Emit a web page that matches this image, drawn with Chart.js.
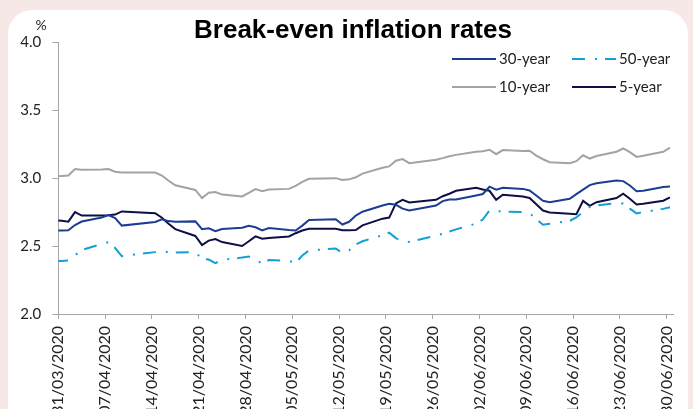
<!DOCTYPE html>
<html>
<head>
<meta charset="utf-8">
<script src="https://cdn.jsdelivr.net/npm/chart.js@4.4.1/dist/chart.umd.min.js"></script>
<style>
  html, body { margin: 0; padding: 0; }
  body { width: 693px; height: 409px; background: #f5e8e6; position: relative; overflow: hidden; }
  #card { position: absolute; left: 8px; top: 10px; width: 680px; height: 430px; background: #fff; border-radius: 24px; }
  #wrap { position: absolute; left: 0; top: 0; width: 693px; height: 409px; }
</style>
</head>
<body>
<div id="card"></div>
<div id="wrap"><canvas id="chart" width="693" height="409"></canvas></div>
<script>
// Break-even inflation rates, %, торгові дні 30/03/2020 - 30/06/2020
const dates = [
    '30/03/2020', '31/03/2020', '01/04/2020', '02/04/2020', '03/04/2020', '06/04/2020', '07/04/2020', '08/04/2020', '09/04/2020', '14/04/2020',
    '15/04/2020', '16/04/2020', '17/04/2020', '20/04/2020', '21/04/2020', '22/04/2020', '23/04/2020', '24/04/2020', '27/04/2020', '28/04/2020',
    '29/04/2020', '30/04/2020', '01/05/2020', '04/05/2020', '05/05/2020', '06/05/2020', '07/05/2020', '11/05/2020', '12/05/2020', '13/05/2020',
    '14/05/2020', '15/05/2020', '18/05/2020', '19/05/2020', '20/05/2020', '21/05/2020', '22/05/2020', '26/05/2020', '27/05/2020', '28/05/2020',
    '29/05/2020', '01/06/2020', '02/06/2020', '03/06/2020', '04/06/2020', '05/06/2020', '08/06/2020', '09/06/2020', '10/06/2020', '11/06/2020',
    '12/06/2020', '15/06/2020', '16/06/2020', '17/06/2020', '18/06/2020', '19/06/2020', '22/06/2020', '23/06/2020', '24/06/2020', '25/06/2020',
    '26/06/2020', '29/06/2020', '30/06/2020'
];

const rate30 = [
    2.614, 2.614, 2.616, 2.654, 2.680, 2.710, 2.728, 2.705, 2.650, 2.677,
    2.696, 2.683, 2.678, 2.681, 2.624, 2.630, 2.609, 2.625, 2.634, 2.648,
    2.638, 2.614, 2.632, 2.617, 2.614, 2.650, 2.692, 2.697, 2.658, 2.678,
    2.724, 2.752, 2.798, 2.810, 2.803, 2.775, 2.762, 2.798, 2.830, 2.842,
    2.842, 2.872, 2.882, 2.936, 2.914, 2.928, 2.920, 2.908, 2.871, 2.832,
    2.822, 2.847, 2.881, 2.915, 2.948, 2.962, 2.982, 2.977, 2.945, 2.903,
    2.907, 2.934, 2.937
];

const rate50 = [
    2.388, 2.390, 2.393, 2.432, 2.470, 2.515, 2.528, 2.485, 2.425, 2.455,
    2.460, 2.455, 2.452, 2.455, 2.405, 2.400, 2.374, 2.398, 2.415, 2.422,
    2.403, 2.369, 2.397, 2.390, 2.376, 2.430, 2.467, 2.482, 2.448, 2.467,
    2.511, 2.535, 2.580, 2.598, 2.558, 2.534, 2.530, 2.577, 2.590, 2.607,
    2.622, 2.665, 2.695, 2.761, 2.757, 2.754, 2.749, 2.741, 2.698, 2.656,
    2.663, 2.685, 2.710, 2.750, 2.787, 2.798, 2.815, 2.812, 2.775, 2.740,
    2.749, 2.773, 2.785
];

const rate10 = [
    3.010, 3.015, 3.018, 3.066, 3.060, 3.062, 3.066, 3.046, 3.040, 3.040,
    3.018, 2.980, 2.947, 2.912, 2.852, 2.892, 2.897, 2.878, 2.864, 2.891,
    2.918, 2.903, 2.915, 2.920, 2.942, 2.972, 2.994, 2.999, 2.985, 2.990,
    3.005, 3.032, 3.075, 3.085, 3.127, 3.139, 3.109, 3.134, 3.146, 3.160,
    3.170, 3.193, 3.196, 3.208, 3.175, 3.205, 3.198, 3.201, 3.165, 3.138,
    3.116, 3.109, 3.124, 3.167, 3.143, 3.162, 3.193, 3.217, 3.190, 3.155,
    3.164, 3.193, 3.224
];

const rate5 = [
    2.688, 2.685, 2.679, 2.749, 2.724, 2.724, 2.726, 2.731, 2.754, 2.741,
    2.708, 2.663, 2.624, 2.574, 2.506, 2.540, 2.551, 2.529, 2.500, 2.535,
    2.571, 2.553, 2.558, 2.570, 2.594, 2.614, 2.626, 2.626, 2.616, 2.615,
    2.617, 2.652, 2.701, 2.709, 2.813, 2.840, 2.820, 2.840, 2.866, 2.884,
    2.906, 2.928, 2.915, 2.906, 2.840, 2.877, 2.864, 2.853, 2.807, 2.761,
    2.747, 2.737, 2.733, 2.832, 2.795, 2.822, 2.853, 2.884, 2.847, 2.805,
    2.810, 2.833, 2.857
];

// Підписи осі X (щотижня)
const tickLabels = [
    '31/03/2020', '07/04/2020', '14/04/2020', '21/04/2020', '28/04/2020', '05/05/2020', '12/05/2020',
    '19/05/2020', '26/05/2020', '02/06/2020', '09/06/2020', '16/06/2020', '23/06/2020', '30/06/2020'
];

const TITLE = 'Break-even inflation rates';
const UNIT = '%';
const FONT = 'Lato, "Open Sans", sans-serif';

// Номер дня від першої мітки осі
function dayNo(s) {
    const [d, m, y] = s.split('/').map(Number);
    const [d0, m0, y0] = tickLabels[0].split('/').map(Number);
    return Math.round((Date.UTC(y, m - 1, d) - Date.UTC(y0, m0 - 1, d0)) / 864e5);
}

// Точки ставляться посередині дня (як у Excel "між поділками")
const toPoints = vals => dates.map((s, i) => ({x: dayNo(s) + 0.5, y: vals[i]}));
const lastDay = dayNo(tickLabels[tickLabels.length - 1]) + 1;

// Заголовок, одиниця і легенда 2x2 у правому верхньому куті
const decorations = {
    id: 'decorations',
    afterDraw(chart) {
        const ctx = chart.ctx;
        const cols = [452, 572];
        const rows = [59, 87];
        ctx.save();

        ctx.fillStyle = '#000';
        ctx.font = 'bold 26px "Liberation Sans", Arial, sans-serif';
        ctx.textAlign = 'center';
        ctx.textBaseline = 'alphabetic';
        ctx.fillText(TITLE, 353, 38);

        chart.data.datasets.forEach((ds, i) => {
            const x = cols[i % 2];
            const y = rows[Math.floor(i / 2)];
            ctx.strokeStyle = ds.borderColor;
            ctx.lineWidth = ds.borderWidth;
            ctx.setLineDash(ds.borderDash || []);
            ctx.beginPath();
            ctx.moveTo(x, y);
            ctx.lineTo(x + 44, y);
            ctx.stroke();
            ctx.setLineDash([]);
            ctx.fillStyle = '#222';
            ctx.font = `15px ${FONT}`;
            ctx.textBaseline = 'middle';
            ctx.textAlign = 'left';
            ctx.fillText(ds.label, x + 47, y);
        });

        ctx.font = `14px ${FONT}`;
        ctx.textAlign = 'center';
        ctx.fillText(UNIT, 41, 25);
        ctx.restore();
    }
};

new Chart(document.getElementById('chart'), {
    type: 'line',
    data: {
        datasets: [
            {label: '30-year', data: toPoints(rate30), borderColor: '#1b3d92', borderWidth: 2},
            {label: '50-year', data: toPoints(rate50), borderColor: '#14a0d6', borderWidth: 2, borderDash: [13, 10, 2, 8]},
            {label: '10-year', data: toPoints(rate10), borderColor: '#a3a3a3', borderWidth: 2},
            {label: '5-year', data: toPoints(rate5), borderColor: '#0e0f45', borderWidth: 2},
        ]
    },
    options: {
        responsive: false,
        animation: false,
        layout: {padding: {left: 10, right: 15.3, top: 42, bottom: 0}},
        elements: {point: {radius: 0}, line: {tension: 0}},
        plugins: {
            legend: {display: false},
            tooltip: {enabled: false},
            title: {display: false}
        },
        scales: {
            x: {
                type: 'linear',
                min: 0,
                max: lastDay,
                afterBuildTicks: s => { s.ticks = tickLabels.map((_, i) => ({value: i * 7})); },
                afterFit: s => { s.height = 95; },
                ticks: {
                    autoSkip: false,
                    minRotation: 90,
                    maxRotation: 90,
                    padding: 7,
                    color: '#222',
                    font: {family: FONT, size: 16},
                    callback: (v, i) => tickLabels[i]
                },
                grid: {drawOnChartArea: false, color: '#a6a6a6', tickLength: 5},
                border: {color: '#a6a6a6'}
            },
            y: {
                min: 2,
                max: 4,
                afterFit: s => { s.width = 48.3; },
                ticks: {
                    stepSize: 0.5,
                    padding: 11,
                    color: '#222',
                    font: {family: FONT, size: 15},
                    callback: v => v.toFixed(1)
                },
                grid: {drawOnChartArea: false, color: '#a6a6a6', tickLength: 6},
                border: {color: '#a6a6a6'}
            }
        }
    },
    plugins: [decorations]
});
</script>
</body>
</html>
